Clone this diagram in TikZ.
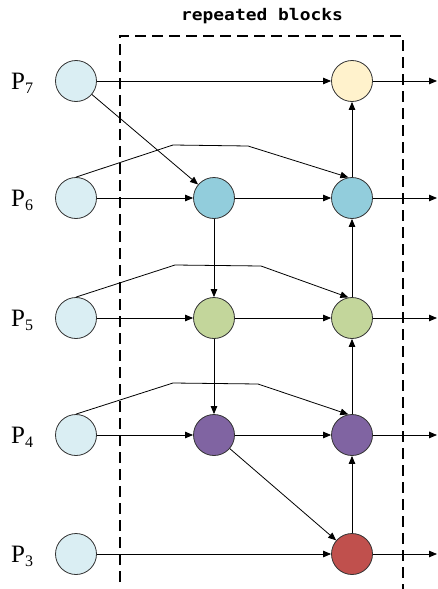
\documentclass[tikz,border=0pt]{standalone}
\usepackage{fontspec}
\setmainfont{Liberation Serif}
\newfontfamily\titlefont{DejaVu Sans Mono}
\usetikzlibrary{arrows.meta}
\definecolor{cin}{HTML}{DAEEF3}
\definecolor{cyel}{HTML}{FFF2CC}
\definecolor{cblu}{HTML}{92CDDC}
\definecolor{cgrn}{HTML}{C3D69B}
\definecolor{cpur}{HTML}{8064A2}
\definecolor{cred}{HTML}{C0504D}
\tikzset{
  x=1pt, y=-1pt,
  ball/.style={circle, draw=black!80, line width=0.8pt, minimum size=41pt, inner sep=0pt},
  conn/.style={line width=0.8pt, -{Triangle[length=8pt,width=6.5pt]}},
  plab/.style={anchor=base west, inner sep=0pt, font=\fontsize{25}{25}\selectfont},
  block/.style={dashed, line width=1.3pt, dash pattern=on 11pt off 6pt}
}
\newcommand{\plabel}[1]{P\raisebox{-4pt}{\fontsize{16}{16}\selectfont #1}}
\begin{document}
\begin{tikzpicture}
\useasboundingbox (0,0) rectangle (437,589);
% dashed block
\draw[block] (120,582) -- (120,36) -- (403,36) -- (403,589);
\node[font=\titlefont\bfseries\fontsize{16}{16}\selectfont] (title) at (262,16) {\scalebox{1.12}[1]{repeated blocks}};
% labels
\node[plab] (t7) at (11,89.5) {\plabel{7}};
\node[plab] (t6) at (11,206.5) {\plabel{6}};
\node[plab] (t5) at (11,326.5) {\plabel{5}};
\node[plab] (t4) at (11,443.5) {\plabel{4}};
\node[plab] (t3) at (11,562.5) {\plabel{3}};
% input nodes
\node[ball, fill=cin] (l7) at (76,81) {};
\node[ball, fill=cin] (l6) at (76,198) {};
\node[ball, fill=cin] (l5) at (76,318) {};
\node[ball, fill=cin] (l4) at (76,435) {};
\node[ball, fill=cin] (l3) at (76,554) {};
% middle nodes
\node[ball, fill=cblu] (m6) at (214,198) {};
\node[ball, fill=cgrn] (m5) at (214,318) {};
\node[ball, fill=cpur] (m4) at (214,435) {};
% right nodes
\node[ball, fill=cyel] (r7) at (352,81) {};
\node[ball, fill=cblu] (r6) at (352,198) {};
\node[ball, fill=cgrn] (r5) at (352,318) {};
\node[ball, fill=cpur] (r4) at (352,435) {};
\node[ball, fill=cred] (r3) at (352,554) {};
% outputs
\coordinate (o7) at (437,81);
\coordinate (o6) at (437,198);
\coordinate (o5) at (437,318);
\coordinate (o4) at (437,435);
\coordinate (o3) at (437,554);
% row connections
\draw[conn] (l7) -- (r7);
\draw[conn] (l6) -- (m6);
\draw[conn] (m6) -- (r6);
\draw[conn] (l5) -- (m5);
\draw[conn] (m5) -- (r5);
\draw[conn] (l4) -- (m4);
\draw[conn] (m4) -- (r4);
\draw[conn] (l3) -- (r3);
% outputs
\draw[conn] (r7) -- (o7);
\draw[conn] (r6) -- (o6);
\draw[conn] (r5) -- (o5);
\draw[conn] (r4) -- (o4);
\draw[conn] (r3) -- (o3);
% diagonals
\draw[conn] (l7) -- (m6);
\draw[conn] (m4) -- (r3);
% vertical down
\draw[conn] (m6) -- (m5);
\draw[conn] (m5) -- (m4);
% vertical up
\draw[conn] (r3) -- (r4);
\draw[conn] (r4) -- (r5);
\draw[conn] (r5) -- (r6);
\draw[conn] (r6) -- (r7);
% skip polylines
\draw[conn] (l6.north) -- (173,145) -- (248,146) -- (r6.100);
\draw[conn] (l5.north) -- (175,265) -- (261,266) -- (r5.100);
\draw[conn] (l4.north) -- (173,383) -- (258,384) -- (r4.100);
\end{tikzpicture}
\end{document}
